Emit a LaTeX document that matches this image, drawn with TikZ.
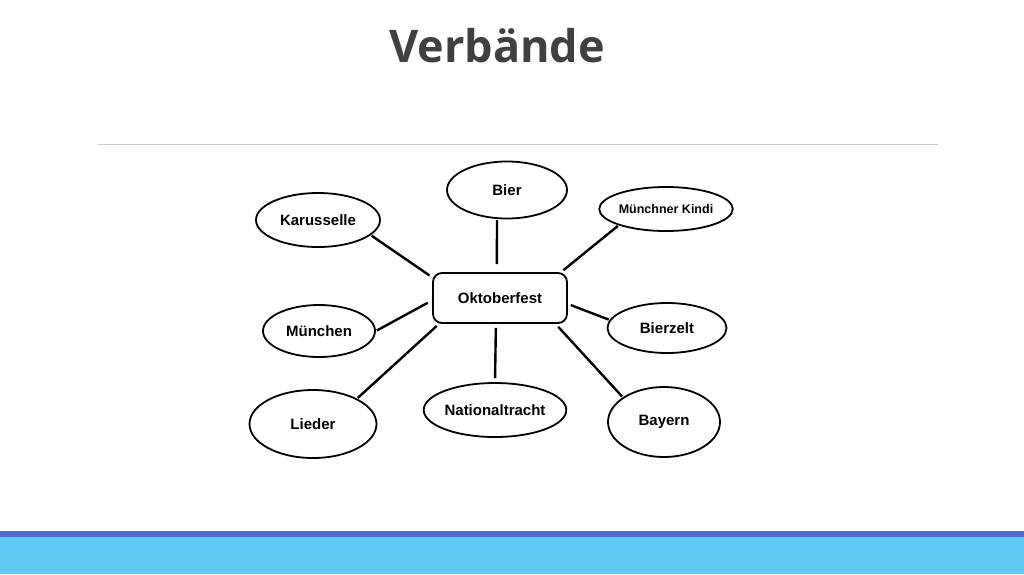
\documentclass[tikz,border=0pt]{standalone}
\usepackage{fontspec}
\setmainfont{Liberation Sans}
\newfontfamily\titlefont{Open Sans}
\usetikzlibrary{shapes.geometric}
\definecolor{titlegray}{HTML}{404040}
\definecolor{rulegray}{HTML}{CCCCCC}
\definecolor{bardark}{HTML}{4A6BC7}
\definecolor{barlight}{HTML}{5FCBF2}

\begin{document}
\begin{tikzpicture}[x=1pt, y=-1pt,
    blob/.style={draw, ellipse, line width=1.8pt, inner sep=0pt, font=\fontsize{15}{18}\selectfont\bfseries},
    hub/.style={draw, rectangle, rounded corners=9pt, line width=1.8pt, minimum width=134pt, minimum height=50pt, font=\fontsize{15}{18}\selectfont\bfseries},
    spoke/.style={line width=2.4pt, shorten <=1pt, shorten >=3pt}]
  \useasboundingbox (0,0) rectangle (1024,574);
  % title and rule
  \node[font=\titlefont\fontsize{45}{50}\selectfont\bfseries, text=titlegray, anchor=base] (title) at (497,62) {Verbände};
  \draw[rulegray, line width=1pt] (98,144) -- (938,144);
  % bottom bars
  \fill[barlight] (0,537) rectangle (1024,574);
  \fill[bardark] (0,531) rectangle (1024,537);

  % center
  \node[hub] (okt) at (500,298) {Oktoberfest};

  % ellipses
  \node[blob, minimum width=120pt, minimum height=57pt] (bier) at (507,190) {Bier};
  \node[blob, minimum width=119pt, minimum height=44pt, font=\fontsize{12.5}{15}\selectfont\bfseries] (kindi) at (666,209) {Münchner Kindi};
  \node[blob, minimum width=124pt, minimum height=54pt] (kar) at (318,220) {Karusselle};
  \node[blob, minimum width=112pt, minimum height=52pt] (muc) at (319,331) {München};
  \node[blob, minimum width=119pt, minimum height=50pt] (bzt) at (667,328) {Bierzelt};
  \node[blob, minimum width=127pt, minimum height=68pt] (lied) at (313,424) {Lieder};
  \node[blob, minimum width=120pt, minimum height=54pt] (nat) at (495,410) {Nationaltracht};
  \node[blob, minimum width=112pt, minimum height=70pt] (bay) at (664,422) {Bayern};

  % spokes
  \draw[spoke] (kar.-16) -- (okt.163);
  \draw[spoke, shorten >=8pt] (bier.-109) -- (okt.97);
  \draw[spoke] (kindi.-161) -- (okt.23);
  \draw[spoke, shorten >=5pt] (muc.east) -- (okt.182);
  \draw[spoke] (bzt.172) -- (okt.-5);
  \draw[spoke] (lied.30) -- (okt.203);
  \draw[spoke, shorten <=4pt, shorten >=4pt] (nat.north) -- (okt.-99);
  \draw[spoke, shorten >=4pt] (bay.149) -- (okt.-25);
\end{tikzpicture}
\end{document}
